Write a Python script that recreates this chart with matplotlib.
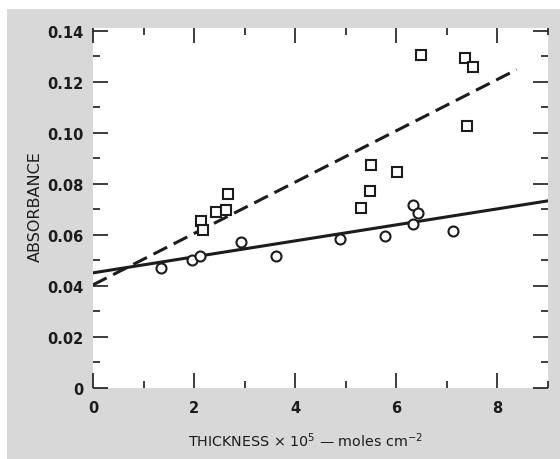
import matplotlib
matplotlib.use("Agg")
import matplotlib.pyplot as plt
from matplotlib.patches import Rectangle
from matplotlib.ticker import MultipleLocator, FixedFormatter, FixedLocator

# squares (upper series)
sq_x = [2.13, 2.17, 2.43, 2.63, 2.67, 5.30, 5.47, 5.49, 6.01, 6.48, 7.35, 7.51, 7.39]
sq_y = [0.0655, 0.0620, 0.0690, 0.0698, 0.0761, 0.0706, 0.0773, 0.0875, 0.0847,
        0.1306, 0.1294, 0.1259, 0.1027]

# circles (lower series)
ci_x = [1.34, 1.96, 2.11, 2.92, 3.62, 4.88, 5.77, 6.32, 6.42, 6.32, 7.13]
ci_y = [0.0471, 0.0502, 0.0518, 0.0573, 0.0518, 0.0584, 0.0596, 0.0718, 0.0686,
        0.0643, 0.0616]

# fitted lines (end points)
dash_x = [0.0, 8.38]
dash_y = [0.0404, 0.1247]
solid_x = [0.0, 9.0]
solid_y = [0.0451, 0.0733]

xticks = [0, 2, 4, 6, 8]
xtick_labels = ["0", "2", "4", "6", "8"]
yticks = [0, 0.02, 0.04, 0.06, 0.08, 0.10, 0.12, 0.14]
ytick_labels = ["0", "0.02", "0.04", "0.06", "0.08", "0.10", "0.12", "0.14"]

ink = "#1c1c1c"
grey = "#d8d8d8"

fig = plt.figure(figsize=(5.6, 4.6), dpi=100, facecolor="white")
fig.patches.append(Rectangle((7 / 560, 0), 553 / 560, 450 / 460,
                             transform=fig.transFigure, facecolor=grey,
                             edgecolor="none", zorder=-10))

ax = fig.add_axes([93 / 560, 71 / 460, 455 / 560, 360 / 460])
ax.set_facecolor("white")
for s in ax.spines.values():
    s.set_visible(False)

ax.plot(dash_x, dash_y, color=ink, lw=2.2, dashes=(5, 2.4), solid_capstyle="butt")
ax.plot(solid_x, solid_y, color=ink, lw=2.2)
ax.plot(sq_x, sq_y, "s", ms=7.2, mfc="white", mec=ink, mew=1.5, zorder=3)
ax.plot(ci_x, ci_y, "o", ms=7.2, mfc="white", mec=ink, mew=1.5, zorder=3)

ax.set_xlim(0, 9.0)
ax.set_ylim(0, 0.141)

ax.xaxis.set_major_locator(FixedLocator(xticks))
ax.xaxis.set_major_formatter(FixedFormatter(xtick_labels))
ax.xaxis.set_minor_locator(MultipleLocator(1))
ax.yaxis.set_major_locator(FixedLocator(yticks))
ax.yaxis.set_major_formatter(FixedFormatter(ytick_labels))
ax.yaxis.set_minor_locator(MultipleLocator(0.01))

ax.tick_params(which="both", direction="in", top=True, right=True, color=ink,
               width=1.2, labelcolor=ink)
ax.tick_params(which="major", length=11, labelsize=10.5)
ax.tick_params(which="minor", length=5)
ax.tick_params(axis="x", which="major", pad=9)
ax.tick_params(axis="y", which="major", pad=7)
for lab in ax.get_xticklabels() + ax.get_yticklabels():
    lab.set_fontweight("bold")

ax.set_xlabel(r"THICKNESS $\times$ 10$^5$ — moles cm$^{-2}$", fontsize=10.3,
              color=ink, labelpad=11)
ax.xaxis.label.set_x(0.466)
ax.set_ylabel("ABSORBANCE", fontsize=11.5, color=ink, labelpad=3)
ax.yaxis.label.set_y(0.508)

fig.savefig("out.png", dpi=100, facecolor=fig.get_facecolor())
